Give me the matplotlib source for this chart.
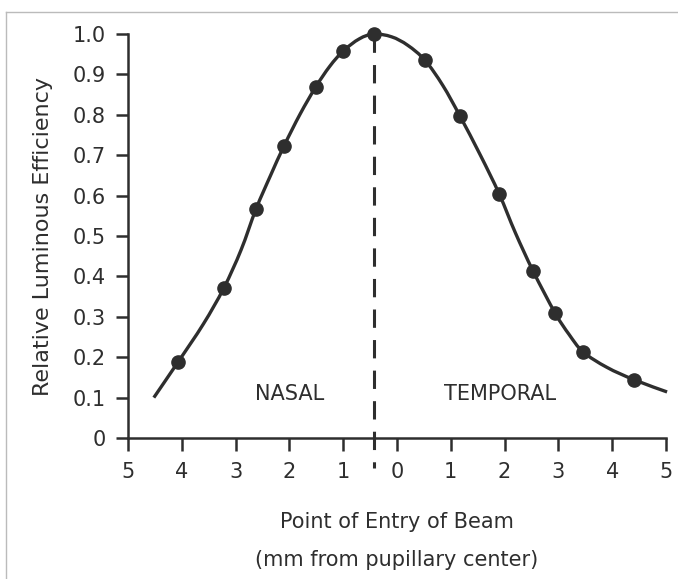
import matplotlib
matplotlib.use("Agg")
import matplotlib.pyplot as plt
from matplotlib.lines import Line2D
from matplotlib.path import Path
from matplotlib.patches import PathPatch

plt.rcParams['font.family'] = ['DejaVu Sans']

# measured points (negative x = nasal side)
pts_x = [-4.07, -3.22, -2.62, -2.10, -1.51, -1.0, -0.43, 0.52, 1.17, 1.90, 2.53, 2.94, 3.46, 4.41]
pts_y = [0.188, 0.371, 0.567, 0.723, 0.869, 0.958, 1.0, 0.935, 0.797, 0.604, 0.413, 0.309, 0.213, 0.144]

# fitted curve
curve_x = [-4.52, -4.07, -3.6, -3.22, -2.9, -2.62, -2.35, -2.10, -1.8, -1.51, -1.25, -1.0,
           -0.7, -0.43, -0.1, 0.2, 0.52, 0.85, 1.17, 1.55, 1.90, 2.2, 2.53, 2.94, 3.2,
           3.46, 3.9, 4.41, 5.02]
curve_y = [0.10, 0.188, 0.282, 0.371, 0.465, 0.567, 0.650, 0.723, 0.802, 0.869, 0.920, 0.958,
           0.988, 1.0, 0.993, 0.972, 0.935, 0.873, 0.797, 0.700, 0.604, 0.508, 0.413, 0.309, 0.256,
           0.213, 0.175, 0.144, 0.114]

peak_x = -0.43
x_ticks = [-5, -4, -3, -2, -1, 0, 1, 2, 3, 4, 5]
x_labels = ['5', '4', '3', '2', '1', '0', '1', '2', '3', '4', '5']
y_ticks = [0, 0.1, 0.2, 0.3, 0.4, 0.5, 0.6, 0.7, 0.8, 0.9, 1.0]
y_labels = ['0', '0.1', '0.2', '0.3', '0.4', '0.5', '0.6', '0.7', '0.8', '0.9', '1.0']

ink = '#2e2e2e'


def smooth_path(xs, ys):
    # catmull-rom through the read points, written as bezier segments
    verts = [(xs[0], ys[0])]
    codes = [Path.MOVETO]
    n = len(xs)
    for i in range(n - 1):
        x0, y0 = (xs[i - 1], ys[i - 1]) if i > 0 else (xs[i], ys[i])
        x1, y1 = xs[i], ys[i]
        x2, y2 = xs[i + 1], ys[i + 1]
        x3, y3 = (xs[i + 2], ys[i + 2]) if i + 2 < n else (x2, y2)
        verts += [(x1 + (x2 - x0) / 6, y1 + (y2 - y0) / 6),
                  (x2 - (x3 - x1) / 6, y2 - (y3 - y1) / 6),
                  (x2, y2)]
        codes += [Path.CURVE4] * 3
    return Path(verts, codes)


fig = plt.figure(figsize=(6.78, 5.79), dpi=100)
ax = fig.add_axes([128/678, 1-438/579, 538/678, 404/579])

ax.add_patch(PathPatch(smooth_path(curve_x, curve_y), facecolor='none', edgecolor=ink,
                       lw=2.4, clip_on=False, capstyle='butt'))
ax.plot(pts_x, pts_y, 'o', color=ink, ms=9.5, clip_on=False, zorder=3)

# dashed line through the peak
ax.plot([peak_x, peak_x], [1.0, -0.075], color=ink, lw=2.2, dashes=(6, 4), clip_on=False)

ax.text(-2.0, 0.11, 'NASAL', ha='center', va='center', fontsize=15, color=ink)
ax.text(1.92, 0.11, 'TEMPORAL', ha='center', va='center', fontsize=15, color=ink)

ax.set_xlim(-5, 5)
ax.set_ylim(0, 1.0)
ax.set_xticks(x_ticks)
ax.set_xticklabels(x_labels)
ax.set_yticks(y_ticks)
ax.set_yticklabels(y_labels)
ax.spines['top'].set_visible(False)
ax.spines['right'].set_visible(False)
for s in ['left', 'bottom']:
    ax.spines[s].set_linewidth(1.8)
    ax.spines[s].set_color(ink)
ax.tick_params(axis='both', colors=ink, labelsize=15, width=1.8, length=9)
ax.tick_params(axis='x', pad=8)
ax.tick_params(axis='y', pad=7)

ax.set_ylabel('Relative Luminous Efficiency', fontsize=16, color=ink, labelpad=14)
ax.set_xlabel('Point of Entry of Beam\n(mm from pupillary center)', fontsize=15,
              color=ink, labelpad=22, linespacing=2.1)

# scan frame
fig.add_artist(Line2D([6/678, 6/678], [0, 1-12/579], color='#bbbbbb', lw=1))
fig.add_artist(Line2D([6/678, 1], [1-12/579, 1-12/579], color='#bbbbbb', lw=1))

fig.savefig('out.png', dpi=100)
